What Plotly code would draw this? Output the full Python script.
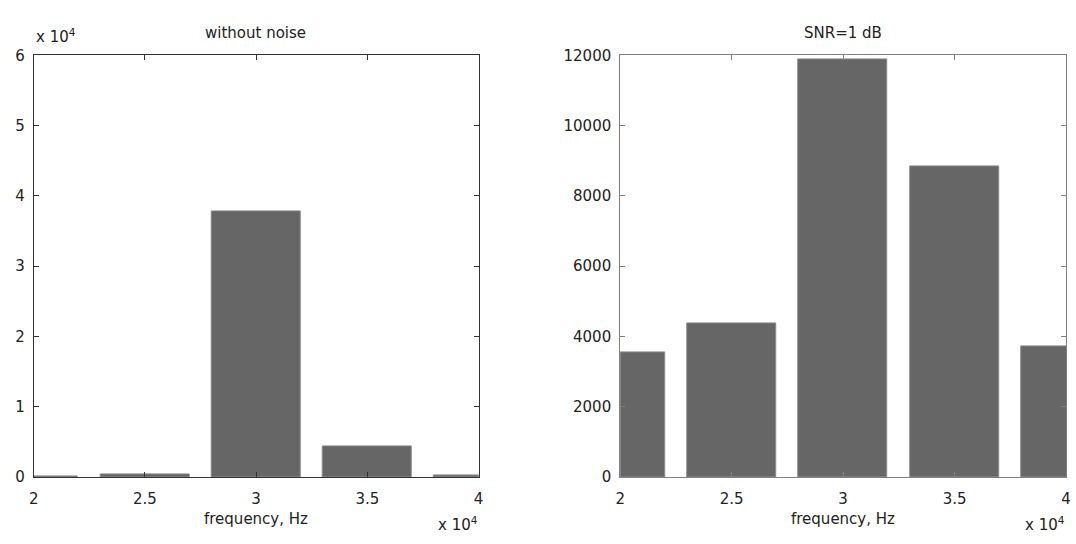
import plotly.graph_objects as go

freq = [20000, 25000, 30000, 35000, 40000]
power_clean = [150, 400, 37800, 4300, 200]
power_noisy = [3550, 4380, 11900, 8830, 3720]

x_ticks = [20000, 25000, 30000, 35000, 40000]
x_ticklabels = ["2", "2.5", "3", "3.5", "4"]
y1_ticks = [0, 10000, 20000, 30000, 40000, 50000, 60000]
y1_ticklabels = ["0", "1", "2", "3", "4", "5", "6"]
y2_ticks = [0, 2000, 4000, 6000, 8000, 10000, 12000]
y2_ticklabels = ["0", "2000", "4000", "6000", "8000", "10000", "12000"]

FONT = dict(family="DejaVu Sans", size=15, color="#222222")
BAR = "#666666"

fig = go.Figure()
fig.add_trace(go.Bar(x=freq, y=power_clean, width=4000, marker=dict(color=BAR, line=dict(color="#8a8a8a", width=1)),
                     xaxis="x", yaxis="y", showlegend=False))
fig.add_trace(go.Bar(x=freq, y=power_noisy, width=4000, marker=dict(color=BAR, line=dict(color="#8a8a8a", width=1)),
                     xaxis="x2", yaxis="y2", showlegend=False))

def xax(domain, anchor, lc):
    return dict(domain=domain, anchor=anchor, range=[20000, 40000], tickvals=x_ticks, ticktext=x_ticklabels,
                ticks="inside", ticklen=5, tickcolor=lc, showline=True, linecolor=lc, linewidth=1,
                mirror="ticks", showgrid=False, zeroline=False, tickfont=FONT, ticklabelstandoff=8)

def yax(domain, anchor, rng, tv, tt, lc):
    return dict(domain=domain, anchor=anchor, range=rng, tickvals=tv, ticktext=tt,
                ticks="inside", ticklen=5, tickcolor=lc, showline=True, linecolor=lc, linewidth=1,
                mirror="ticks", showgrid=False, zeroline=False, tickfont=FONT, ticklabelstandoff=5)

yd = [1 - 484 / 544, 1 - 48 / 544]
fig.update_layout(
    width=1076, height=544, margin=dict(l=0, r=0, t=0, b=0),
    paper_bgcolor="white", plot_bgcolor="white", font=FONT, bargap=0,
    xaxis=xax([29 / 1076, 478 / 1076], "y", "#333333"),
    yaxis=yax(yd, "x", [0, 60000], y1_ticks, y1_ticklabels, "#333333"),
    xaxis2=xax([621 / 1076, 1071 / 1076], "y2", "#808080"),
    yaxis2=yax(yd, "x2", [0, 12000], y2_ticks, y2_ticklabels, "#808080"),
)

ann = [
    dict(text="without noise", x=253, y=544 - 25),
    dict(text="SNR=1 dB", x=846, y=544 - 25),
    dict(text="frequency, Hz", x=253, y=544 - 527),
    dict(text="frequency, Hz", x=846, y=544 - 527),
    dict(text="x 10<sup>4</sup>", x=51, y=544 - 28),
    dict(text="x 10<sup>4</sup>", x=457, y=544 - 533),
    dict(text="x 10<sup>4</sup>", x=1050, y=544 - 533),
]
for a in ann:
    fig.add_annotation(text=a["text"], x=a["x"] / 1076, y=a["y"] / 544, xref="paper", yref="paper",
                       showarrow=False, font=FONT, xanchor="center", yanchor="middle")

fig.write_html("out.html")
